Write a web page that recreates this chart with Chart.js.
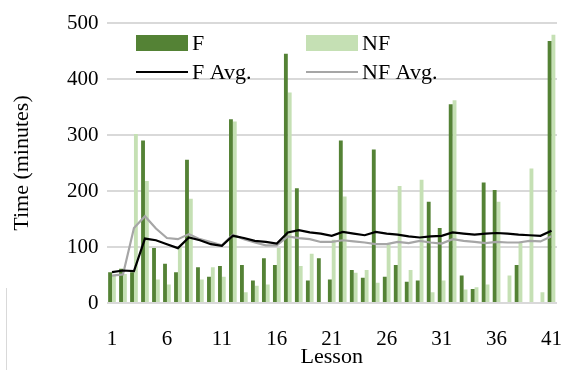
<!DOCTYPE html>
<html>
<head>
<meta charset="utf-8">
<script src="https://cdn.jsdelivr.net/npm/chart.js@4.4.0/dist/chart.umd.min.js"></script>
<style>
    html, body { margin: 0; padding: 0; background: #fff; }
    #wrap { position: relative; width: 564px; height: 370px; }
    #frameLine { position: absolute; left: 6px; top: 288px; width: 1px; height: 82px; background: #d9d9d9; }
</style>
</head>
<body>
<div id="wrap">
    <canvas id="lessonChart" width="564" height="370"></canvas>
    <div id="frameLine"></div>
</div>
<script>
const lessons = [1, 2, 3, 4, 5, 6, 7, 8, 9, 10, 11, 12, 13, 14, 15, 16, 17, 18, 19, 20,
    21, 22, 23, 24, 25, 26, 27, 28, 29, 30, 31, 32, 33, 34, 35, 36, 37, 38, 39, 40, 41];
const shownLessons = [1, 6, 11, 16, 21, 26, 31, 36, 41];

const fTimes = [55, 61, 55, 290, 98, 70, 55, 256, 64, 47, 66, 328, 68, 40, 80, 68, 445, 205, 40, 80,
    42, 290, 59, 45, 274, 47, 68, 38, 40, 181, 134, 355, 49, 25, 215, 202, 0, 68, 0, 0, 468];
const nfTimes = [49, 52, 302, 218, 42, 33, 100, 186, 42, 64, 47, 324, 19, 31, 33, 98, 376, 66, 88, 0,
    113, 190, 54, 59, 36, 105, 209, 59, 220, 19, 40, 362, 24, 28, 33, 181, 49, 107, 240, 19, 479];
const fAvg = [55, 58, 57, 115, 112, 105, 98, 117, 112, 105, 102, 120, 116, 111, 109, 106, 126, 130, 126, 124,
    120, 127, 124, 121, 127, 124, 122, 119, 117, 119, 120, 126, 124, 122, 124, 125, 124, 122, 121, 120, 129];
const nfAvg = [49, 51, 134, 155, 133, 116, 114, 123, 114, 109, 103, 122, 114, 108, 103, 103, 119, 116, 114, 109,
    109, 112, 110, 108, 105, 105, 109, 107, 111, 108, 106, 114, 111, 109, 107, 109, 108, 108, 111, 110, 119];

const yTicks = [0, 100, 200, 300, 400, 500];

const SERIF = '"Liberation Serif", "Times New Roman", serif';

// legend drawn inside the plot, two columns x two rows
const cornerLegend = {
    id: 'cornerLegend',
    afterDraw(chart) {
        const ctx = chart.ctx;
        const cols = [136, 306];
        const rows = [43, 72];
        ctx.save();
        ctx.font = '22px ' + SERIF;
        ctx.textBaseline = 'middle';
        chart.data.datasets.forEach((ds, i) => {
            const x = cols[i % 2];
            const y = rows[Math.floor(i / 2)];
            if (ds.type === 'line') {
                ctx.strokeStyle = ds.borderColor;
                ctx.lineWidth = ds.borderWidth;
                ctx.beginPath();
                ctx.moveTo(x, y);
                ctx.lineTo(x + 52, y);
                ctx.stroke();
            } else {
                ctx.fillStyle = ds.backgroundColor;
                ctx.fillRect(x, y - 8, 52, 16);
            }
            ctx.fillStyle = '#000';
            ctx.fillText(ds.label, x + 56, y + 1);
        });
        ctx.restore();
    }
};

new Chart(document.getElementById('lessonChart'), {
    type: 'bar',
    data: {
        labels: lessons,
        datasets: [
            { label: 'F', data: fTimes, backgroundColor: '#548235', order: 2,
              categoryPercentage: 0.7, barPercentage: 1 },
            { label: 'NF', data: nfTimes, backgroundColor: '#c5e0b4', order: 2,
              categoryPercentage: 0.7, barPercentage: 1 },
            { type: 'line', label: 'F Avg.', data: fAvg, borderColor: '#000000', borderWidth: 2.2,
              pointRadius: 0, tension: 0, order: 0 },
            { type: 'line', label: 'NF Avg.', data: nfAvg, borderColor: '#a6a6a6', borderWidth: 2.2,
              pointRadius: 0, tension: 0, order: 1 }
        ]
    },
    options: {
        responsive: false,
        animation: false,
        layout: { padding: { top: 23, right: 7, bottom: 0, left: 0 } },
        plugins: {
            legend: { display: false },
            tooltip: { enabled: false }
        },
        scales: {
            x: {
                grid: { display: false, drawTicks: false },
                border: { display: false },
                ticks: {
                    autoSkip: false,
                    maxRotation: 0,
                    padding: 24,
                    color: '#000',
                    font: { family: SERIF, size: 21 },
                    callback: (val, i) => shownLessons.includes(lessons[i]) ? String(lessons[i]) : ''
                },
                title: {
                    display: true,
                    text: 'Lesson',
                    color: '#000',
                    font: { family: SERIF, size: 22 },
                    padding: { top: 0, bottom: 0 }
                },
                afterFit: (scale) => {
                    scale.height = 67;
                    scale.paddingLeft = 0;
                    scale.paddingRight = 0;
                }
            },
            y: {
                min: 0,
                max: 500,
                grid: { color: '#d9d9d9', lineWidth: 2, drawTicks: false },
                border: { display: false },
                afterBuildTicks: (scale) => { scale.ticks = yTicks.map(v => ({ value: v })); },
                ticks: {
                    padding: 8,
                    color: '#000',
                    font: { family: SERIF, size: 21 }
                },
                title: {
                    display: true,
                    text: 'Time (minutes)',
                    color: '#000',
                    font: { family: SERIF, size: 22 },
                    padding: { top: 9, bottom: 0 }
                },
                afterFit: (scale) => { scale.width = 106.5; }
            }
        }
    },
    plugins: [cornerLegend]
});
</script>
</body>
</html>
